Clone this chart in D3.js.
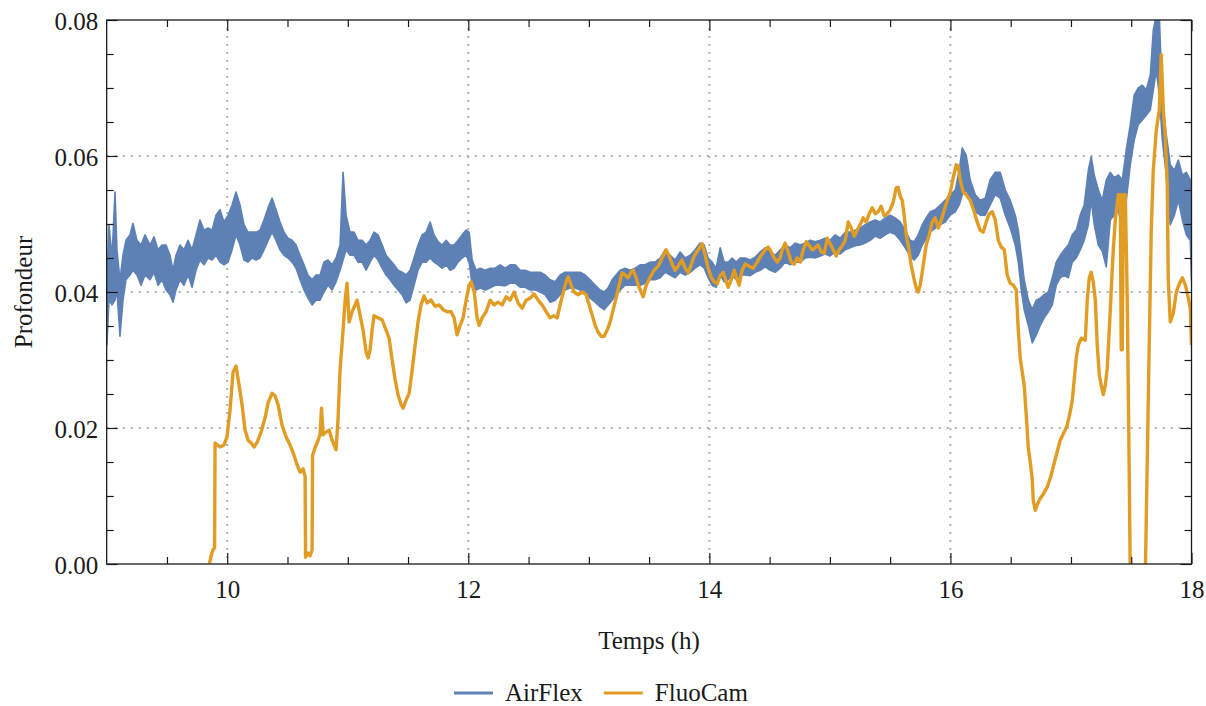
<!DOCTYPE html>
<html><head><meta charset="utf-8">
<script src="https://cdn.jsdelivr.net/npm/d3@7"></script>
<style>
body{margin:0;background:#fff;}
svg{display:block;}
</style></head><body>
<svg id="chart" width="1206" height="706"></svg>
<script>
// ---------- data ----------
const xMajorTicks = [10, 12, 14, 16, 18];
const yMajorTicks = [0, 0.02, 0.04, 0.06, 0.08];
const xGridLines = [10, 12, 14, 16];
const yGridLines = [0.02, 0.04, 0.06];
const seriesNames = ["AirFlex", "FluoCam"];
const xTitle = "Temps (h)";
const yTitle = "Profondeur";

// AirFlex: [time (h), min, max] of the noisy signal
const airflexBand = [
[9.002,0.0322,0.0410],[9.019,0.0388,0.0499],[9.044,0.0381,0.0450],[9.069,0.0388,0.0547],[9.085,0.0403,0.0462],
[9.110,0.0335,0.0418],[9.135,0.0388,0.0454],[9.160,0.0418,0.0476],[9.193,0.0425,0.0484],[9.218,0.0432,0.0501],
[9.251,0.0425,0.0476],[9.285,0.0410,0.0469],[9.318,0.0425,0.0484],[9.359,0.0418,0.0469],[9.393,0.0429,0.0481],
[9.426,0.0410,0.0462],[9.459,0.0418,0.0469],[9.492,0.0403,0.0469],[9.525,0.0396,0.0454],[9.550,0.0385,0.0432],
[9.575,0.0403,0.0454],[9.608,0.0418,0.0469],[9.641,0.0410,0.0462],[9.675,0.0425,0.0476],[9.708,0.0407,0.0462],
[9.741,0.0432,0.0484],[9.774,0.0447,0.0506],[9.807,0.0440,0.0491],[9.841,0.0450,0.0494],[9.874,0.0447,0.0491],
[9.907,0.0454,0.0513],[9.940,0.0444,0.0521],[9.973,0.0440,0.0503],[10.007,0.0444,0.0513],[10.040,0.0462,0.0528],
[10.073,0.0484,0.0547],[10.106,0.0469,0.0528],[10.139,0.0447,0.0499],[10.172,0.0444,0.0488],[10.206,0.0450,0.0488],
[10.239,0.0447,0.0488],[10.272,0.0450,0.0491],[10.305,0.0462,0.0506],[10.339,0.0476,0.0524],[10.372,0.0488,0.0538],
[10.405,0.0476,0.0521],[10.438,0.0462,0.0503],[10.471,0.0454,0.0488],[10.504,0.0450,0.0479],[10.538,0.0444,0.0476],
[10.571,0.0435,0.0469],[10.604,0.0418,0.0454],[10.637,0.0403,0.0440],[10.670,0.0391,0.0425],[10.704,0.0381,0.0418],
[10.737,0.0388,0.0425],[10.770,0.0388,0.0425],[10.803,0.0400,0.0444],[10.836,0.0410,0.0447],[10.870,0.0403,0.0440],
[10.903,0.0415,0.0450],[10.936,0.0432,0.0469],[10.961,0.0447,0.0576],[10.986,0.0462,0.0513],[11.019,0.0454,0.0488],
[11.052,0.0454,0.0488],[11.085,0.0444,0.0476],[11.119,0.0444,0.0476],[11.152,0.0432,0.0469],[11.185,0.0444,0.0476],
[11.218,0.0454,0.0488],[11.251,0.0447,0.0484],[11.285,0.0435,0.0469],[11.318,0.0425,0.0454],[11.351,0.0418,0.0447],
[11.384,0.0410,0.0440],[11.417,0.0403,0.0432],[11.451,0.0396,0.0429],[11.484,0.0384,0.0425],[11.517,0.0388,0.0432],
[11.550,0.0410,0.0450],[11.583,0.0432,0.0469],[11.617,0.0444,0.0484],[11.650,0.0444,0.0488],[11.683,0.0450,0.0503],
[11.716,0.0444,0.0484],[11.749,0.0440,0.0474],[11.783,0.0435,0.0469],[11.816,0.0440,0.0476],[11.849,0.0432,0.0469],
[11.882,0.0435,0.0469],[11.915,0.0444,0.0476],[11.949,0.0450,0.0484],[11.982,0.0454,0.0491],[12.007,0.0444,0.0488],
[12.032,0.0410,0.0447],[12.065,0.0403,0.0432],[12.098,0.0406,0.0435],[12.140,0.0403,0.0432],[12.181,0.0406,0.0435],
[12.223,0.0410,0.0435],[12.264,0.0410,0.0440],[12.306,0.0409,0.0435],[12.347,0.0413,0.0440],[12.389,0.0413,0.0440],
[12.430,0.0407,0.0432],[12.472,0.0407,0.0432],[12.513,0.0403,0.0429],[12.555,0.0403,0.0429],[12.596,0.0400,0.0429],
[12.638,0.0396,0.0425],[12.679,0.0385,0.0418],[12.721,0.0388,0.0415],[12.762,0.0396,0.0425],[12.803,0.0403,0.0429],
[12.845,0.0406,0.0429],[12.886,0.0406,0.0429],[12.928,0.0403,0.0429],[12.969,0.0400,0.0425],[13.011,0.0391,0.0418],
[13.052,0.0385,0.0410],[13.094,0.0378,0.0403],[13.127,0.0374,0.0400],[13.160,0.0381,0.0406],[13.193,0.0388,0.0418],
[13.226,0.0396,0.0425],[13.260,0.0403,0.0432],[13.301,0.0410,0.0435],[13.343,0.0410,0.0432],[13.384,0.0410,0.0435],
[13.426,0.0410,0.0440],[13.467,0.0413,0.0440],[13.509,0.0418,0.0444],[13.550,0.0418,0.0444],[13.592,0.0421,0.0450],
[13.633,0.0429,0.0462],[13.675,0.0425,0.0454],[13.716,0.0421,0.0447],[13.758,0.0429,0.0459],[13.799,0.0425,0.0450],
[13.841,0.0429,0.0454],[13.882,0.0435,0.0462],[13.924,0.0440,0.0472],[13.957,0.0435,0.0469],[13.990,0.0421,0.0450],
[14.023,0.0410,0.0444],[14.056,0.0407,0.0435],[14.090,0.0425,0.0465],[14.123,0.0415,0.0444],[14.156,0.0418,0.0444],
[14.189,0.0425,0.0450],[14.223,0.0418,0.0444],[14.256,0.0425,0.0450],[14.297,0.0425,0.0450],[14.339,0.0424,0.0447],
[14.380,0.0429,0.0451],[14.422,0.0432,0.0459],[14.463,0.0437,0.0465],[14.505,0.0432,0.0459],[14.546,0.0429,0.0454],
[14.588,0.0435,0.0462],[14.629,0.0444,0.0469],[14.671,0.0440,0.0465],[14.712,0.0444,0.0472],[14.754,0.0444,0.0469],
[14.795,0.0450,0.0472],[14.837,0.0451,0.0476],[14.878,0.0450,0.0474],[14.920,0.0453,0.0476],[14.961,0.0456,0.0479],
[15.002,0.0453,0.0476],[15.044,0.0459,0.0484],[15.085,0.0456,0.0479],[15.127,0.0462,0.0488],[15.168,0.0465,0.0488],
[15.210,0.0468,0.0491],[15.251,0.0469,0.0494],[15.293,0.0472,0.0499],[15.334,0.0476,0.0503],[15.376,0.0482,0.0506],
[15.417,0.0479,0.0503],[15.459,0.0484,0.0509],[15.500,0.0488,0.0513],[15.542,0.0485,0.0509],[15.583,0.0476,0.0503],
[15.625,0.0465,0.0491],[15.666,0.0453,0.0476],[15.699,0.0447,0.0474],[15.733,0.0454,0.0484],[15.766,0.0469,0.0499],
[15.799,0.0479,0.0509],[15.832,0.0488,0.0518],[15.874,0.0494,0.0521],[15.915,0.0499,0.0528],[15.957,0.0503,0.0535],
[15.998,0.0513,0.0543],[16.040,0.0518,0.0550],[16.073,0.0528,0.0579],[16.098,0.0543,0.0612],[16.131,0.0550,0.0601],
[16.164,0.0535,0.0565],[16.206,0.0518,0.0543],[16.247,0.0513,0.0535],[16.289,0.0513,0.0538],[16.330,0.0528,0.0565],
[16.372,0.0543,0.0576],[16.413,0.0538,0.0576],[16.455,0.0513,0.0550],[16.496,0.0494,0.0535],[16.538,0.0469,0.0513],
[16.563,0.0444,0.0491],[16.588,0.0403,0.0454],[16.612,0.0374,0.0418],[16.646,0.0351,0.0388],[16.679,0.0325,0.0374],
[16.712,0.0337,0.0388],[16.745,0.0351,0.0391],[16.778,0.0362,0.0396],[16.812,0.0371,0.0400],[16.845,0.0381,0.0421],
[16.878,0.0410,0.0444],[16.911,0.0421,0.0454],[16.944,0.0425,0.0462],[16.978,0.0421,0.0469],[17.011,0.0444,0.0484],
[17.044,0.0450,0.0491],[17.077,0.0462,0.0513],[17.110,0.0476,0.0528],[17.144,0.0499,0.0579],[17.168,0.0535,0.0599],
[17.193,0.0499,0.0572],[17.227,0.0469,0.0550],[17.260,0.0460,0.0535],[17.293,0.0437,0.0565],[17.326,0.0506,0.0576],
[17.359,0.0513,0.0568],[17.393,0.0521,0.0572],[17.426,0.0491,0.0565],[17.459,0.0535,0.0609],[17.492,0.0587,0.0646],
[17.525,0.0624,0.0690],[17.558,0.0646,0.0700],[17.592,0.0653,0.0704],[17.625,0.0660,0.0697],[17.658,0.0668,0.0719],
[17.683,0.0697,0.0785],[17.708,0.0726,0.0807],[17.733,0.0690,0.0807],[17.758,0.0624,0.0682],[17.791,0.0572,0.0631],
[17.824,0.0499,0.0587],[17.858,0.0513,0.0579],[17.891,0.0535,0.0594],[17.924,0.0506,0.0572],[17.957,0.0484,0.0576],
[17.990,0.0476,0.0565],[18.000,0.0418,0.0484]
];

// FluoCam: [time (h), value]
const fluocamLine = [
[9.853,0.0001],[9.866,0.0012],[9.882,0.0021],[9.895,0.0024],[9.899,0.0178],[9.940,0.0172],[9.973,0.0175],
[9.998,0.0187],[10.023,0.0226],[10.048,0.0282],[10.073,0.0291],[10.098,0.0263],[10.123,0.0234],[10.148,0.0197],
[10.173,0.0182],[10.198,0.0178],[10.223,0.0172],[10.248,0.0179],[10.281,0.0194],[10.314,0.0215],[10.339,0.0237],
[10.372,0.0251],[10.397,0.0247],[10.422,0.0234],[10.455,0.0204],[10.488,0.0187],[10.521,0.0175],[10.554,0.0160],
[10.579,0.0146],[10.604,0.0135],[10.629,0.0140],[10.646,0.0129],[10.650,0.0010],[10.670,0.0016],[10.687,0.0012],
[10.704,0.0021],[10.708,0.0160],[10.729,0.0171],[10.754,0.0182],[10.770,0.0190],[10.782,0.0229],[10.795,0.0190],
[10.820,0.0194],[10.845,0.0197],[10.870,0.0182],[10.903,0.0168],[10.919,0.0212],[10.936,0.0285],[10.961,0.0344],
[10.978,0.0388],[10.994,0.0413],[11.011,0.0356],[11.036,0.0371],[11.061,0.0381],[11.077,0.0388],[11.102,0.0366],
[11.127,0.0344],[11.152,0.0312],[11.169,0.0303],[11.185,0.0315],[11.202,0.0344],[11.218,0.0365],[11.251,0.0362],
[11.285,0.0359],[11.318,0.0344],[11.343,0.0332],[11.368,0.0300],[11.393,0.0271],[11.417,0.0249],[11.442,0.0235],
[11.459,0.0229],[11.484,0.0241],[11.509,0.0251],[11.534,0.0285],[11.559,0.0322],[11.583,0.0356],[11.608,0.0381],
[11.633,0.0394],[11.658,0.0384],[11.691,0.0388],[11.724,0.0379],[11.758,0.0381],[11.791,0.0374],[11.824,0.0371],
[11.857,0.0371],[11.882,0.0362],[11.907,0.0337],[11.932,0.0351],[11.957,0.0362],[11.982,0.0388],[12.007,0.0410],
[12.024,0.0415],[12.049,0.0400],[12.073,0.0362],[12.090,0.0351],[12.115,0.0362],[12.148,0.0371],[12.181,0.0388],
[12.214,0.0381],[12.247,0.0385],[12.281,0.0381],[12.314,0.0393],[12.347,0.0388],[12.380,0.0400],[12.413,0.0384],
[12.446,0.0376],[12.480,0.0388],[12.513,0.0391],[12.546,0.0397],[12.579,0.0388],[12.612,0.0381],[12.646,0.0371],
[12.679,0.0362],[12.712,0.0365],[12.737,0.0362],[12.762,0.0381],[12.787,0.0399],[12.812,0.0415],[12.829,0.0422],
[12.854,0.0410],[12.878,0.0400],[12.912,0.0396],[12.945,0.0400],[12.978,0.0396],[13.003,0.0381],[13.028,0.0366],
[13.052,0.0351],[13.077,0.0341],[13.102,0.0335],[13.127,0.0335],[13.152,0.0344],[13.177,0.0356],[13.202,0.0374],
[13.226,0.0391],[13.251,0.0410],[13.276,0.0428],[13.301,0.0425],[13.326,0.0421],[13.351,0.0429],[13.368,0.0432],
[13.392,0.0421],[13.417,0.0407],[13.451,0.0393],[13.476,0.0410],[13.509,0.0422],[13.542,0.0432],[13.575,0.0438],
[13.608,0.0450],[13.641,0.0462],[13.666,0.0453],[13.691,0.0441],[13.716,0.0432],[13.741,0.0438],[13.774,0.0447],
[13.799,0.0435],[13.824,0.0428],[13.849,0.0440],[13.874,0.0453],[13.907,0.0462],[13.940,0.0471],[13.965,0.0454],
[13.990,0.0435],[14.015,0.0422],[14.040,0.0415],[14.065,0.0412],[14.090,0.0424],[14.115,0.0429],[14.140,0.0415],
[14.156,0.0407],[14.181,0.0418],[14.206,0.0432],[14.231,0.0418],[14.247,0.0410],[14.272,0.0432],[14.297,0.0441],
[14.330,0.0438],[14.363,0.0435],[14.397,0.0444],[14.430,0.0454],[14.463,0.0462],[14.488,0.0466],[14.513,0.0459],
[14.538,0.0450],[14.563,0.0444],[14.588,0.0450],[14.604,0.0462],[14.629,0.0472],[14.654,0.0459],[14.679,0.0444],
[14.704,0.0441],[14.729,0.0450],[14.754,0.0444],[14.779,0.0462],[14.804,0.0474],[14.829,0.0468],[14.854,0.0462],
[14.878,0.0465],[14.903,0.0469],[14.928,0.0459],[14.953,0.0457],[14.978,0.0479],[15.002,0.0471],[15.027,0.0462],
[15.052,0.0453],[15.077,0.0462],[15.102,0.0468],[15.127,0.0476],[15.152,0.0503],[15.177,0.0494],[15.202,0.0482],
[15.226,0.0491],[15.251,0.0499],[15.276,0.0509],[15.301,0.0503],[15.326,0.0515],[15.351,0.0524],[15.376,0.0515],
[15.400,0.0518],[15.425,0.0526],[15.450,0.0512],[15.475,0.0515],[15.500,0.0521],[15.525,0.0532],[15.550,0.0553],
[15.566,0.0554],[15.583,0.0541],[15.600,0.0535],[15.616,0.0513],[15.633,0.0484],[15.650,0.0469],[15.674,0.0440],
[15.699,0.0418],[15.716,0.0406],[15.733,0.0400],[15.749,0.0410],[15.766,0.0429],[15.783,0.0450],[15.799,0.0469],
[15.824,0.0484],[15.849,0.0503],[15.874,0.0509],[15.899,0.0494],[15.924,0.0506],[15.949,0.0521],[15.974,0.0535],
[15.998,0.0546],[16.023,0.0568],[16.048,0.0587],[16.065,0.0585],[16.081,0.0565],[16.106,0.0547],[16.131,0.0543],
[16.164,0.0535],[16.197,0.0518],[16.222,0.0503],[16.247,0.0491],[16.272,0.0488],[16.297,0.0503],[16.322,0.0515],
[16.347,0.0518],[16.372,0.0506],[16.397,0.0476],[16.422,0.0466],[16.447,0.0462],[16.471,0.0425],[16.496,0.0413],
[16.521,0.0410],[16.546,0.0403],[16.563,0.0344],[16.579,0.0303],[16.596,0.0282],[16.612,0.0263],[16.629,0.0219],
[16.646,0.0171],[16.662,0.0150],[16.679,0.0124],[16.687,0.0094],[16.704,0.0079],[16.720,0.0087],[16.737,0.0094],
[16.770,0.0103],[16.803,0.0113],[16.828,0.0126],[16.853,0.0143],[16.878,0.0160],[16.911,0.0182],[16.944,0.0194],
[16.969,0.0204],[16.994,0.0224],[17.011,0.0241],[17.027,0.0271],[17.044,0.0303],[17.061,0.0322],[17.086,0.0332],
[17.119,0.0329],[17.135,0.0388],[17.152,0.0421],[17.168,0.0429],[17.185,0.0415],[17.202,0.0388],[17.218,0.0322],
[17.235,0.0278],[17.251,0.0263],[17.268,0.0249],[17.285,0.0263],[17.301,0.0288],[17.318,0.0344],[17.334,0.0403],
[17.351,0.0462],[17.368,0.0506],[17.393,0.0543],[17.409,0.0543],[17.417,0.0315],[17.426,0.0315],[17.434,0.0543],
[17.451,0.0543],[17.467,0.0388],[17.484,0.0124],[17.492,-0.0016],[17.617,-0.0016],[17.633,0.0153],[17.650,0.0329],
[17.666,0.0491],[17.683,0.0579],[17.708,0.0638],[17.733,0.0668],[17.749,0.0749],[17.766,0.0668],[17.782,0.0631],
[17.799,0.0557],[17.807,0.0418],[17.824,0.0356],[17.849,0.0369],[17.874,0.0400],[17.899,0.0412],[17.924,0.0421],
[17.949,0.0410],[17.974,0.0391],[17.990,0.0376],[18.000,0.0322]
];

// ---------- chart ----------
const m = {left: 106.7, right: 1191.5, top: 20, bottom: 564};
const colors = {AirFlex: "#5E81B5", FluoCam: "#E19C24"};
const font = "'Liberation Serif','Times New Roman',serif";
const fs = 25;
const ink = "#1a1a1a";

const svg = d3.select("#chart");
const x = d3.scaleLinear().domain([9, 18]).range([m.left, m.right]);
const y = d3.scaleLinear().domain([0, 0.08]).range([m.bottom, m.top]);

svg.append("defs").append("clipPath").attr("id", "plotClip")
  .append("rect").attr("x", m.left).attr("y", m.top)
  .attr("width", m.right - m.left).attr("height", m.bottom - m.top);

// grid
const grid = svg.append("g").attr("stroke", "#b0b0b0").attr("stroke-width", 2).attr("stroke-dasharray", "2,6");
grid.selectAll(".gx").data(xGridLines).join("line")
  .attr("x1", d => x(d)).attr("x2", d => x(d)).attr("y1", m.top).attr("y2", m.bottom);
grid.selectAll(".gy").data(yGridLines).join("line")
  .attr("y1", d => y(d)).attr("y2", d => y(d)).attr("x1", m.left).attr("x2", m.right);

// data
const plot = svg.append("g").attr("clip-path", "url(#plotClip)");
const area = d3.area().x(d => x(d[0])).y0(d => y(d[1])).y1(d => y(d[2]));
plot.append("path").datum(airflexBand).attr("d", area)
  .attr("fill", colors.AirFlex).attr("stroke", colors.AirFlex)
  .attr("stroke-width", 1.6).attr("stroke-linejoin", "round");
const line = d3.line().x(d => x(d[0])).y(d => y(d[1]));
plot.append("path").datum(fluocamLine).attr("d", line)
  .attr("fill", "none").attr("stroke", colors.FluoCam)
  .attr("stroke-width", 3.4).attr("stroke-linejoin", "round");

// axes
const minorX = d3.range(9.5, 18, 0.5).filter(v => !xMajorTicks.includes(v));
const minorY = d3.range(1, 16).map(i => i * 0.005).filter(v => Math.abs(v / 0.02 - Math.round(v / 0.02)) > 1e-6);

function styleAxis(g) {
  g.select(".domain").remove();
  g.attr("font-family", font).attr("font-size", fs).attr("color", ink);
  g.selectAll(".tick line").attr("stroke-width", 1.2);
  g.selectAll("text").attr("fill", ink);
}

// bottom
svg.append("g").attr("transform", `translate(0,${m.bottom})`)
  .call(d3.axisBottom(x).tickValues(xMajorTicks).tickSize(-11).tickFormat(d3.format("d")))
  .call(styleAxis)
  .call(g => g.selectAll("text").attr("y", 34).attr("dy", 0));
svg.append("g").attr("transform", `translate(0,${m.bottom})`)
  .call(d3.axisBottom(x).tickValues(minorX).tickSize(-7).tickFormat(""))
  .call(styleAxis);
// top
svg.append("g").attr("transform", `translate(0,${m.top})`)
  .call(d3.axisTop(x).tickValues(xMajorTicks).tickSize(-11).tickFormat(""))
  .call(styleAxis);
svg.append("g").attr("transform", `translate(0,${m.top})`)
  .call(d3.axisTop(x).tickValues(minorX).tickSize(-7).tickFormat(""))
  .call(styleAxis);
// left
svg.append("g").attr("transform", `translate(${m.left},0)`)
  .call(d3.axisLeft(y).tickValues(yMajorTicks).tickSize(-11).tickFormat(d3.format(".2f")))
  .call(styleAxis)
  .call(g => g.selectAll("text").attr("x", -8.5).attr("dy", 9));
svg.append("g").attr("transform", `translate(${m.left},0)`)
  .call(d3.axisLeft(y).tickValues(minorY).tickSize(-7).tickFormat(""))
  .call(styleAxis);
// right
svg.append("g").attr("transform", `translate(${m.right},0)`)
  .call(d3.axisRight(y).tickValues(yMajorTicks).tickSize(-11).tickFormat(""))
  .call(styleAxis);
svg.append("g").attr("transform", `translate(${m.right},0)`)
  .call(d3.axisRight(y).tickValues(minorY).tickSize(-7).tickFormat(""))
  .call(styleAxis);

// frame
svg.append("rect").attr("x", m.left).attr("y", m.top)
  .attr("width", m.right - m.left).attr("height", m.bottom - m.top)
  .attr("fill", "none").attr("stroke", ink).attr("stroke-width", 1.3);

// titles
svg.append("text").attr("x", (m.left + m.right) / 2).attr("y", 649)
  .attr("text-anchor", "middle").attr("font-family", font).attr("font-size", fs).attr("fill", ink)
  .text(xTitle);
svg.append("text").attr("transform", `translate(32,${(m.top + m.bottom) / 2}) rotate(-90)`)
  .attr("text-anchor", "middle").attr("font-family", font).attr("font-size", fs).attr("fill", ink)
  .text(yTitle);

// legend
const leg = svg.append("g");
let lx = 454;
seriesNames.forEach((name) => {
  leg.append("line").attr("x1", lx).attr("x2", lx + 39).attr("y1", 693).attr("y2", 693)
    .attr("stroke", colors[name]).attr("stroke-width", 2.8);
  const t = leg.append("text").attr("x", lx + 51).attr("y", 701)
    .attr("font-family", font).attr("font-size", fs).attr("fill", ink).text(name);
  lx = lx + 51 + t.node().getComputedTextLength() + 21;
});
</script>
</body></html>
